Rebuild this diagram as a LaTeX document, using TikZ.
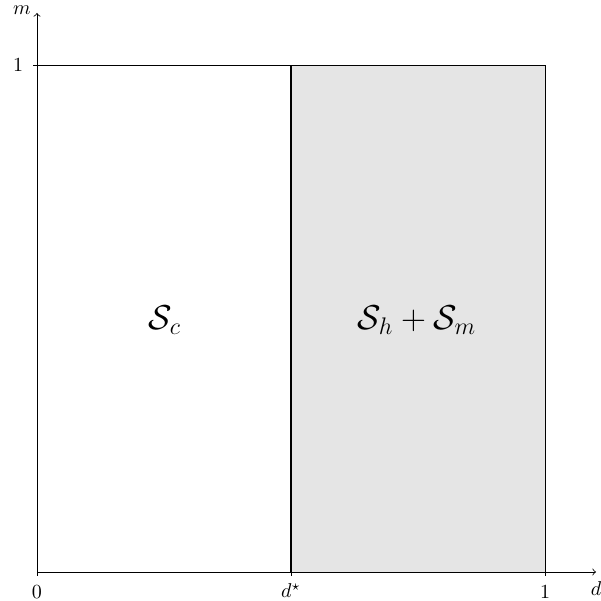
\documentclass[tikz,border=0pt]{standalone}
\usepackage{amsmath}
\begin{document}
\begin{tikzpicture}[x=0.5pt,y=0.5pt,
  region/.style={font=\LARGE},
  ticklabel/.style={inner sep=0pt}]
\useasboundingbox (0,0) rectangle (601,601);
\coordinate (O) at (37,29);
\coordinate (ds) at (291,29);
\coordinate (one) at (545,29);
\coordinate (ds1) at (291,536);
\coordinate (c11) at (545,536);
\coordinate (y1) at (37,536);
\coordinate (xend) at (596,29);
\coordinate (yend) at (37,588);
\fill[gray!20] (ds) rectangle (c11);
\draw (y1) -- (c11) -- (one);
\draw[line width=1.4pt] (ds) -- (ds1);
\draw[->] (O) -- (xend);
\draw[->] (O) -- (yend);
\draw (37,29) -- (37,25);
\draw (291,29) -- (291,25);
\draw (545,29) -- (545,25);
\draw (33,536) -- (37,536);
\node[ticklabel] (l0) at (37,9) {$0$};
\node[ticklabel] (lds) at (291,10) {$d^\star$};
\node[ticklabel] (l1) at (545,9) {$1$};
\node[ticklabel] (ly1) at (18,536) {$1$};
\node[ticklabel] (lm) at (22,591) {$m$};
\node[ticklabel] (ld) at (596,12) {$d$};
\node[region] (sc) at (165,281) {$\mathcal{S}_c$};
\node[region] (shm) at (417,281) {$\mathcal{S}_h+\mathcal{S}_m$};
\end{tikzpicture}
\end{document}
